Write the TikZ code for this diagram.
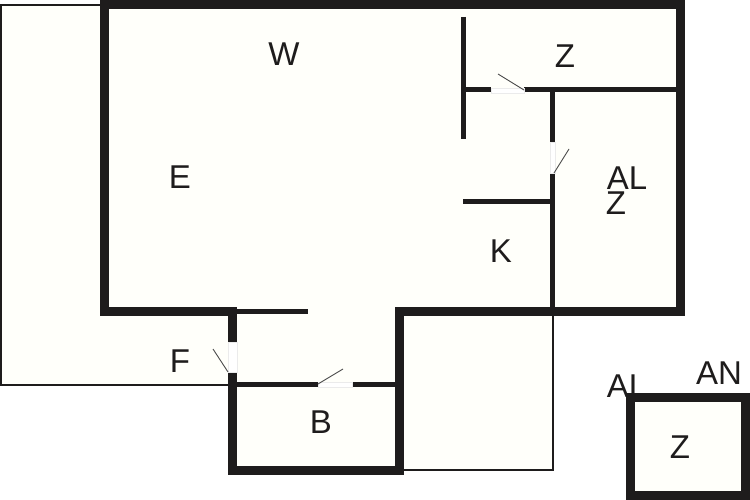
\documentclass[tikz,border=0pt]{standalone}
\usepackage{fontspec}
\setmainfont{Liberation Sans}
\usepackage{tikz}
\definecolor{roomfill}{HTML}{FFFFFA}
\definecolor{wallblack}{HTML}{1E1C1C}
\begin{document}
\begin{tikzpicture} [x=1pt,y=-1pt]

\tikzstyle{room}=[fill=roomfill,draw=none]
\tikzstyle{outerwall}=[draw=wallblack,line width=9pt,line cap=butt,line join=miter]
\tikzstyle{innerwall}=[draw=wallblack,line width=5pt]
\tikzstyle{thinwall}=[draw=wallblack,line width=1.5pt]
\tikzstyle{doorgap}=[fill=white,draw=black!8,line width=0.6pt]
\tikzstyle{leaf}=[draw=black!70,line width=0.9pt]
\tikzstyle{tag}=[text=wallblack,font=\fontsize{33}{33}\selectfont,inner sep=0pt]

\useasboundingbox (0,0) rectangle (750,500);

\fill [room] (1,5) -- (104,5) -- (104,4) -- (681,4) -- (681,311) -- (553,311) -- (553,470) -- (232,470) -- (232,385) -- (1,385) -- cycle;
\fill [room] (630,397) rectangle (745,496);

% labels first, the small room wall runs over one of them
\node (w) [tag] at (284,54) {W};
\node (e) [tag] at (180,177) {E};
\node (f) [tag] at (180,361) {F};
\node (b) [tag] at (321,422) {B};
\node (k) [tag] at (501,251) {K};
\node (zupper) [tag] at (565,56) {Z};
\node (al) [tag] at (627,178) {AL};
\node (zright) [tag] at (616,203) {Z};
\node (alsmall) [tag] at (627,386) {AL};
\node (an) [tag] at (719,373) {AN};
\node (zsmall) [tag] at (680,447) {Z};

\draw [thinwall] (232,385) -- (1,385) -- (1,5) -- (104,5);
\draw [thinwall] (400,470) -- (553,470) -- (553,311);

\draw [outerwall] (232,345) -- (232,311) -- (104,311) -- (104,4.5) -- (680.5,4.5) -- (680.5,311) -- (399,311) -- (399,470) -- (232,470) -- (232,372);
\draw [outerwall] (630,500) -- (630,397) -- (745,397) -- (745,500);
\draw [outerwall] (626,495.5) -- (749,495.5);

\draw [innerwall] (232,311) -- (308,311);
\draw [innerwall] (232,384) -- (318,384);
\draw [innerwall] (352,384) -- (399,384);
\draw [innerwall] (463,17) -- (463,139);
\draw [innerwall] (463,90) -- (491,90);
\draw [innerwall] (524,90) -- (677,90);
\draw [innerwall] (552,90) -- (552,142);
\draw [innerwall] (552,173) -- (552,311);
\draw [innerwall] (463,201) -- (552,201);

\draw [doorgap] (228,342) rectangle (237,372);
\draw [doorgap] (318,382) rectangle (352,387);
\draw [doorgap] (491,88) rectangle (524,93);
\draw [doorgap] (550,142) rectangle (555,173);

\draw [leaf] (228,372) -- (213,349);
\draw [leaf] (318,384) -- (343,369);
\draw [leaf] (524,90) -- (498,74);
\draw [leaf] (554,173) -- (569,149);

\end{tikzpicture}
\end{document}
